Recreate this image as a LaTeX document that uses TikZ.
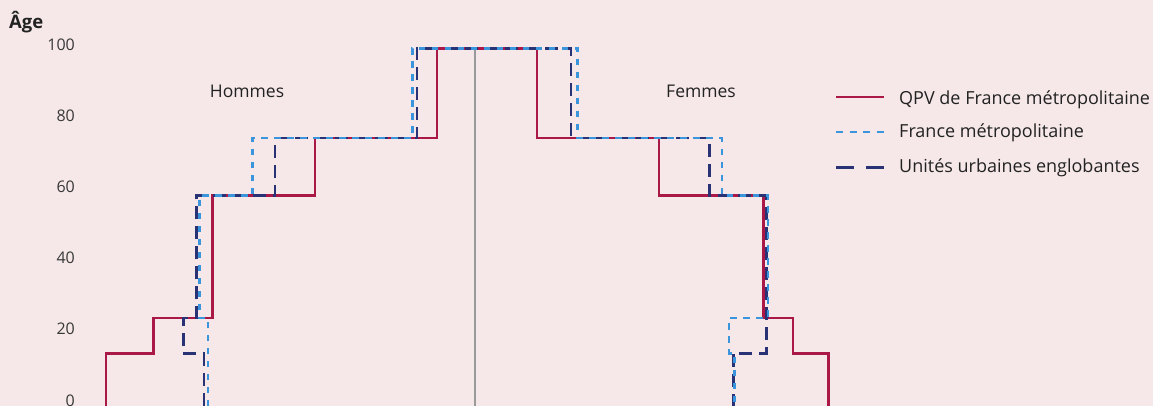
\documentclass[tikz,border=0pt]{standalone}
\usepackage{fontspec}
\setmainfont{Open Sans}
\definecolor{bg}{HTML}{F6E8E9}
\definecolor{qpv}{HTML}{AA1848}
\definecolor{fm}{HTML}{3B95DC}
\definecolor{uu}{HTML}{283275}
\definecolor{txt}{HTML}{222222}
\definecolor{axisgray}{HTML}{9A9A9A}
\begin{document}
\begin{tikzpicture}[x=1pt,y=-1pt,
  qpvline/.style={draw=qpv,line width=2.4pt},
  fmline/.style={draw=fm,line width=2.4pt,dash pattern=on 6.5pt off 6.5pt},
  uuline/.style={draw=uu,line width=2.4pt,dash pattern=on 13pt off 7pt},
  lbl/.style={font=\fontsize{17.5}{20}\selectfont,text=txt,inner sep=0pt},
  leglbl/.style={lbl,anchor=base west,font=\fontsize{18}{20}\selectfont},
  ticklbl/.style={lbl,anchor=east,text=txt!90,font=\fontsize{16}{18}\selectfont}]
\fill[bg] (0,0) rectangle (1153,406);
\useasboundingbox (0,0) rectangle (1153,406);
% centre axis
\coordinate (axtop) at (475,48.5);
\coordinate (axbot) at (475,406);
\draw[axisgray,line width=1.3pt] (axtop) -- (axbot);
% tick labels
\node[ticklbl] (t100) at (75,45) {100};
\node[ticklbl] (t80) at (75,116) {80};
\node[ticklbl] (t60) at (75,187) {60};
\node[ticklbl] (t40) at (75,258) {40};
\node[ticklbl] (t20) at (75,329) {20};
\node[ticklbl] (t0) at (75,401) {0};
\node[lbl,anchor=base west,font=\fontsize{18.5}{20}\selectfont\bfseries] (age) at (9,29) {Âge};
\node[lbl,anchor=base] (hommes) at (247,98) {Hommes};
\node[lbl,anchor=base] (femmes) at (701,98) {Femmes};
% QPV
\draw[qpvline] (106,406) |- (153.3,353.3) |- (212.3,317.8) |- (315,195.7) |- (437,138)
  |- (536.7,48.5) |- (659,138) |- (763.3,195.7) |- (792.7,317.8) |- (828.3,353.3) -- (828.3,406);
% Unites urbaines englobantes
\draw[uuline] (203.7,406) |- (183.3,353.3) |- (196.3,317.8) |- (275,195.7) |- (416.7,138)
  |- (570.7,48.5) |- (709.5,138) |- (766.5,195.7) |- (733.3,353.3) -- (733.3,406);
% France metropolitaine
\draw[fmline] (207.7,406) |- (199.5,317.8) |- (252.5,195.7) |- (412.3,138)
  |- (577.5,48.5) |- (721.7,138) |- (768,195.7) |- (729,317.8) |- (734.5,353.3) -- (734.5,406);
% legend
\coordinate (l1a) at (836,97.3); \coordinate (l1b) at (884,97.3);
\coordinate (l2a) at (836,132.3); \coordinate (l2b) at (884,132.3);
\coordinate (l3a) at (836,167.7); \coordinate (l3b) at (884,167.7);
\draw[qpvline] (l1a) -- (l1b);
\draw[fmline,dash pattern=on 7pt off 6.5pt] (l2a) -- (l2b);
\draw[uuline,dash pattern=on 17.7pt off 12.6pt] (l3a) -- (l3b);
\node[leglbl] (leg1) at (899,105) {QPV de France métropolitaine};
\node[leglbl] (leg2) at (899,137.7) {France métropolitaine};
\node[leglbl] (leg3) at (899,172.7) {Unités urbaines englobantes};
\end{tikzpicture}
\end{document}
